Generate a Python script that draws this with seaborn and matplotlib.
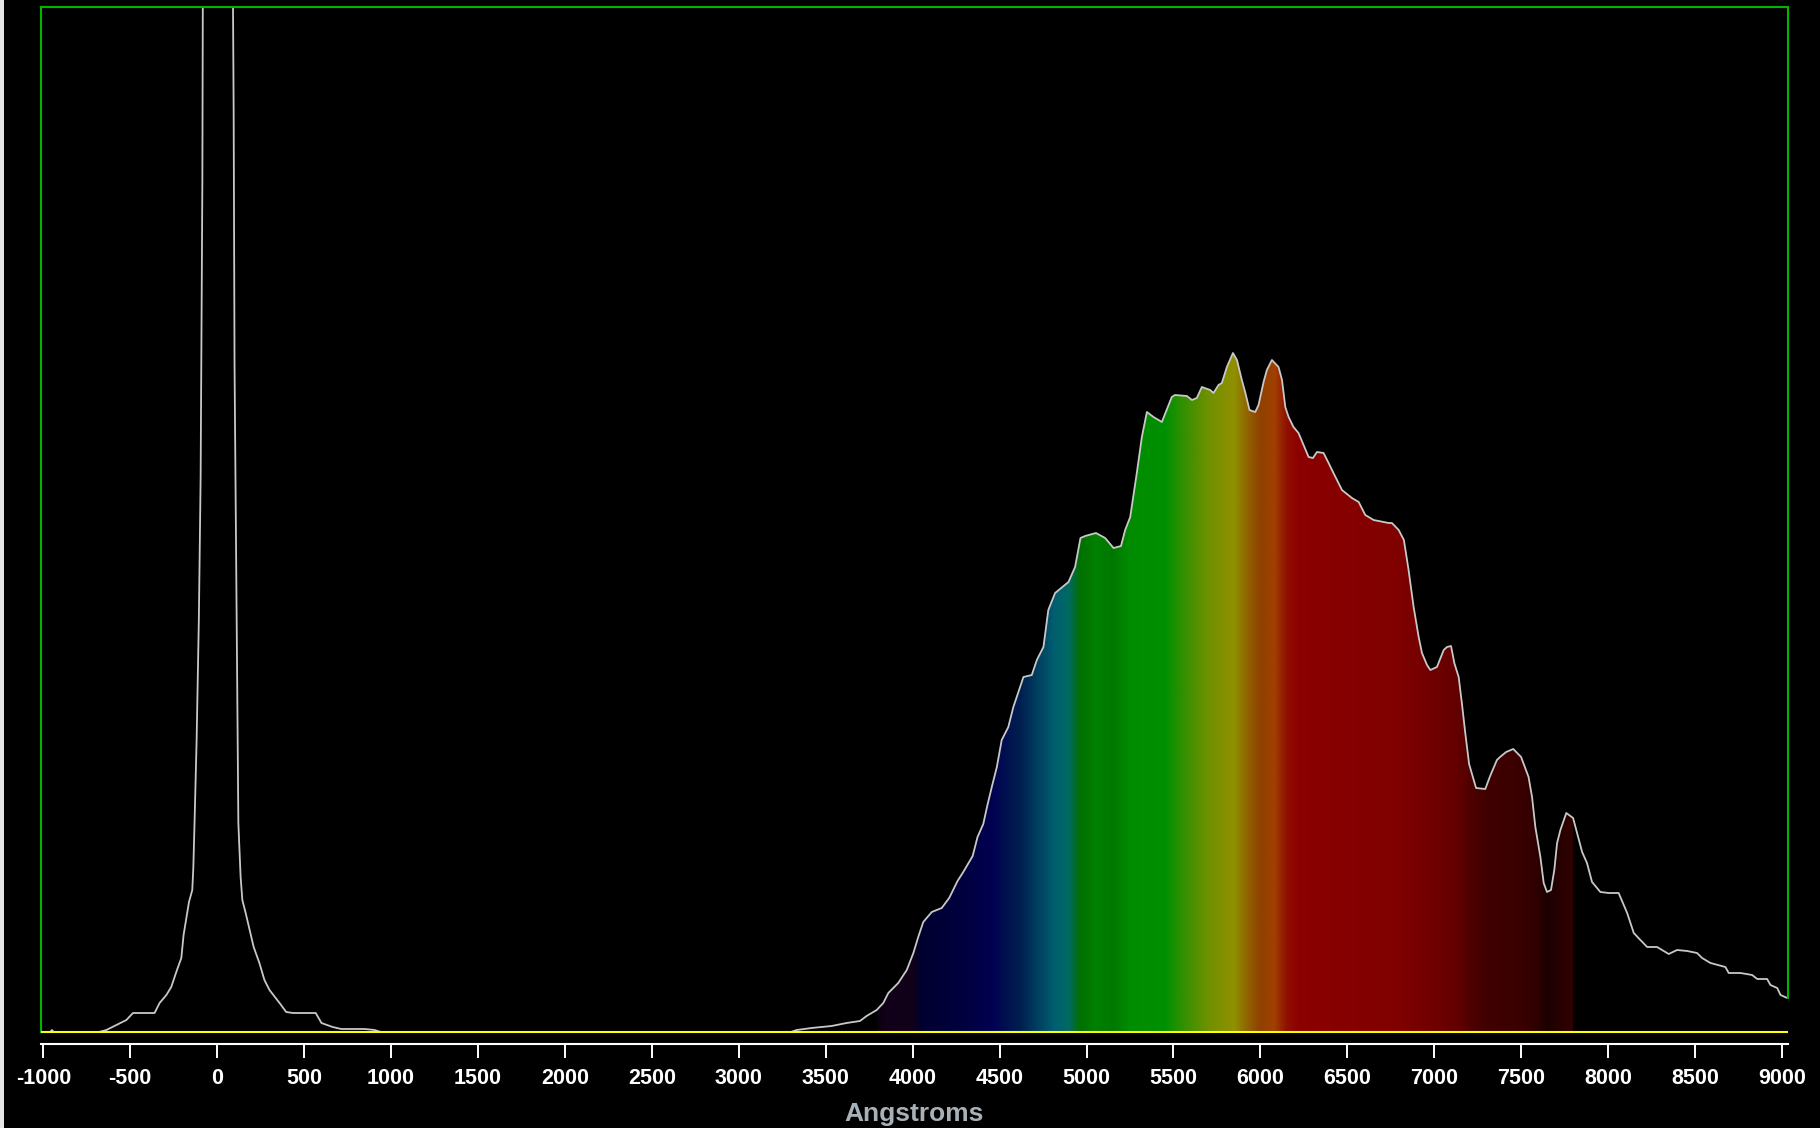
import numpy as np
import matplotlib
matplotlib.use("Agg")
import matplotlib.pyplot as plt
from matplotlib.patches import PathPatch, Rectangle
import seaborn as sns

# ---------------- data ----------------
wavelength = [
    -1010, -960, -950, -940, -680, -659, -637, -580, -522, -484,
    -360, -331, -292, -264, -231, -206, -193, -177, -162, -143,
    -137, -130, -118, -105, -95, -85, -80, 0, 85, 95,
    100, 113, 122, 135, 145, 164, 187, 210, 243, 272,
    301, 359, 397, 436, 567, 600, 664, 714, 849, 906,
    940, 3300, 3333, 3419, 3534, 3620, 3697, 3735, 3793, 3831,
    3860, 3917, 3966, 4004, 4032, 4061, 4110, 4167, 4210, 4258,
    4291, 4345, 4373, 4406, 4430, 4455, 4484, 4512, 4550, 4579,
    4637, 4685, 4714, 4752, 4780, 4819, 4896, 4934, 4965, 4992,
    5054, 5107, 5155, 5198, 5222, 5251, 5289, 5318, 5347, 5385,
    5433, 5490, 5509, 5577, 5606, 5634, 5663, 5711, 5730, 5759,
    5778, 5807, 5842, 5865, 5893, 5912, 5937, 5970, 5989, 6018,
    6037, 6066, 6104, 6124, 6143, 6162, 6190, 6219, 6248, 6277,
    6302, 6325, 6363, 6392, 6420, 6469, 6526, 6565, 6603, 6651,
    6737, 6756, 6795, 6825, 6852, 6881, 6910, 6929, 6958, 6977,
    7015, 7054, 7073, 7096, 7115, 7140, 7159, 7178, 7200, 7230,
    7240, 7293, 7321, 7360, 7378, 7413, 7454, 7499, 7542, 7562,
    7581, 7610, 7629, 7648, 7671, 7690, 7706, 7725, 7759, 7798,
    7821, 7850, 7878, 7907, 7955, 8003, 8060, 8109, 8147, 8185,
    8224, 8281, 8348, 8396, 8454, 8511, 8540, 8588, 8674, 8693,
    8761, 8828, 8857, 8914, 8933, 8972, 8991, 9030,
]
intensity = [
    0, 0, 2, 0, 0, 1, 2, 7, 12, 19,
    19, 29, 37, 45, 62, 74, 97, 114, 130, 142,
    164, 209, 292, 415, 554, 851, 1200, 3000, 1200, 920,
    668, 394, 209, 155, 132, 119, 102, 85, 69, 52,
    42, 29, 20, 19, 19, 9, 5, 3, 3, 2,
    0, 0, 2, 4, 6, 9, 11, 16, 22, 29,
    39, 49, 62, 79, 95, 110, 120, 124, 134, 151,
    160, 176, 195, 208, 227, 245, 265, 292, 305, 325,
    355, 357, 372, 385, 422, 439, 450, 465, 494, 496,
    499, 494, 484, 486, 502, 515, 559, 595, 620, 615,
    610, 635, 637, 636, 632, 634, 645, 642, 639, 647,
    649, 665, 679, 672, 652, 640, 622, 620, 627, 650,
    662, 672, 665, 652, 625, 615, 605, 599, 587, 575,
    574, 580, 579, 569, 559, 542, 534, 530, 517, 512,
    509, 509, 502, 492, 462, 425, 395, 379, 367, 362,
    365, 382, 385, 386, 369, 355, 328, 299, 268, 250,
    244, 243, 256, 272, 275, 280, 283, 275, 255, 235,
    205, 175, 149, 140, 142, 162, 189, 202, 219, 214,
    199, 180, 169, 150, 140, 139, 139, 119, 99, 92,
    85, 85, 78, 82, 81, 79, 74, 69, 65, 59,
    59, 57, 53, 53, 47, 44, 37, 34,
]
assert len(wavelength) == len(intensity)

tick_values = [-1000, -500, 0, 500, 1000, 1500, 2000, 2500, 3000, 3500, 4000,
               4500, 5000, 5500, 6000, 6500, 7000, 7500, 8000, 8500, 9000]
tick_labels = [str(v) for v in tick_values]

# colour stops of the visible-spectrum fill (wavelength, colour)
stop_wavelengths = [3750, 3850, 4000, 4050, 4300, 4450, 4620, 4720, 4820, 4900,
                    4960, 5050, 5150, 5250, 5450, 5550, 5700, 5850, 5930, 6000,
                    6080, 6150, 6220, 6600, 6800, 7000, 7150, 7200, 7300, 7500,
                    7580, 7650, 7720, 7800]
stop_colors = ["#000000", "#12001a", "#100018", "#000030", "#000040", "#000050",
               "#002050", "#004060", "#006070", "#006a60", "#007000", "#008000",
               "#007800", "#008c00", "#009000", "#309000", "#709000", "#909000",
               "#906000", "#904000", "#a04000", "#901000", "#8c0000", "#840000",
               "#800000", "#700000", "#600000", "#500000", "#400000", "#3a0000",
               "#300000", "#1c0000", "#280000", "#300000"]
fill_start, fill_end = 3790, 7800

# ---------------- style ----------------
sns.set_theme(style="dark")
plt.rcParams["font.family"] = ["Liberation Sans", "DejaVu Sans"]

W, H = 1820, 1128
fig = plt.figure(figsize=(W / 100, H / 100), dpi=100, facecolor="black")
ax_left, ax_right, ax_top, ax_bottom = 41, 1788, 7, 1044
ax = fig.add_axes([ax_left / W, (H - ax_bottom) / H,
                   (ax_right - ax_left) / W, (ax_bottom - ax_top) / H])
ax.set_facecolor("black")
ax.grid(False)

wl = np.array(wavelength, dtype=float)
it = np.array(intensity, dtype=float)

# spectrum gradient fill under the curve
mask = (wl >= fill_start) & (wl <= fill_end)
poly = ax.fill_between(wl[mask], 0, it[mask], color="none", lw=0)
path = poly.get_paths()[0]
N = 1000
gx = np.linspace(fill_start, fill_end, N)
rgb = np.array([matplotlib.colors.to_rgb(c) for c in stop_colors])
img = np.stack([np.interp(gx, stop_wavelengths, rgb[:, k]) for k in range(3)], axis=-1)
img = img[np.newaxis, :, :]
im = ax.imshow(img, extent=(fill_start, fill_end, 0, 1025), aspect="auto",
               origin="lower", interpolation="bilinear", zorder=1)
clip = PathPatch(path, transform=ax.transData, facecolor="none", edgecolor="none")
im.set_clip_path(clip)

# curve
sns.lineplot(x=wl, y=it, ax=ax, color="#c8c8c8", linewidth=1.3,
             estimator=None, sort=False, zorder=2)

# yellow baseline
ax.axhline(0, color="#ffff00", linewidth=1.5, zorder=3)

ax.set_xlim(-1013, 9034)
ax.set_ylim(-12, 1025)

# frame
green = "#00b400"
for s in ["top", "left", "right"]:
    ax.spines[s].set_visible(True)
    ax.spines[s].set_color(green)
    ax.spines[s].set_linewidth(1.5)
ax.spines["left"].set_bounds(0, 1025)
ax.spines["right"].set_bounds(intensity[-1], 1025)
ax.spines["bottom"].set_visible(True)
ax.spines["bottom"].set_color("white")
ax.spines["bottom"].set_linewidth(1.5)

ax.set_yticks([])
ax.set_xticks(tick_values)
ax.set_xticklabels(tick_labels)
ax.tick_params(axis="x", colors="white", length=10, width=1.4, direction="out",
               pad=7.5, labelsize=15.5, bottom=True)
for lbl in ax.get_xticklabels():
    lbl.set_fontweight("bold")
ax.set_xlabel("Angstroms", color="#a8b0b8", fontsize=19, fontweight="bold",
              labelpad=9)
ax.set_ylabel("")

# thin light border at the far left of the window
fig.add_artist(Rectangle((0, 0), 4 / W, 1, transform=fig.transFigure,
                         facecolor="#e6e6e6", edgecolor="none"))

fig.savefig("out.png", dpi=100, facecolor="black")
